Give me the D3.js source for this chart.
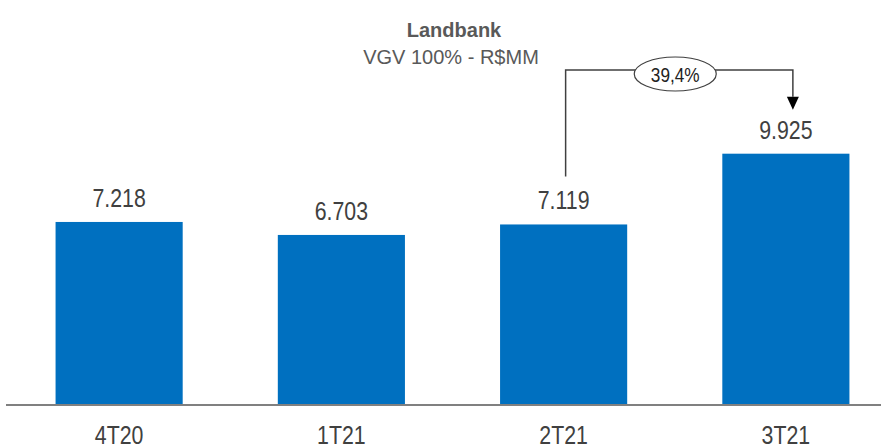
<!DOCTYPE html>
<html>
<head>
<meta charset="utf-8">
<script src="https://cdn.jsdelivr.net/npm/d3@7"></script>
<style>
  html, body { margin: 0; padding: 0; background: #fff; }
  svg { display: block; }
</style>
</head>
<body>
<svg id="chart" width="881" height="446"></svg>
<script>
// data
const categories = ['4T20', '1T21', '2T21', '3T21'];
const values = [7218, 6703, 7119, 9925];
const valueLabels = ['7.218', '6.703', '7.119', '9.925'];
const growthLabel = '39,4%';

const width = 881, height = 446;
const baseY = 404;
const FONT = 'Liberation Sans, Arial, sans-serif';
const NARROW = 0.82; // no Arial Narrow here, squeeze Liberation Sans instead

const svg = d3.select('#chart');

const x = d3.scaleBand()
    .domain(categories)
    .range([8, 897])
    .paddingInner(0.428)
    .paddingOuter(0.214);

const y = d3.scaleLinear()
    .domain([0, 10000])
    .range([baseY, baseY - 252.2]);

// narrow text helper: anchor at (tx, ty), squeezed horizontally
function narrowText(sel, tx, ty) {
  return sel
      .attr('transform', (d, i) => `translate(${tx(d, i)},${ty(d, i)}) scale(${NARROW},1)`)
      .attr('text-anchor', 'middle')
      .attr('font-family', FONT);
}

// title
svg.append('text')
    .attr('x', 454).attr('y', 37)
    .attr('text-anchor', 'middle')
    .attr('font-family', FONT)
    .attr('font-weight', 'bold')
    .attr('font-size', 20)
    .attr('fill', '#595959')
    .text('Landbank');

svg.append('text')
    .attr('x', 451).attr('y', 64)
    .attr('text-anchor', 'middle')
    .attr('font-family', FONT)
    .attr('font-size', 20)
    .attr('fill', '#595959')
    .text('VGV 100% - R$MM');

// bars
svg.append('g').selectAll('rect')
    .data(values)
    .enter().append('rect')
    .attr('x', (d, i) => x(categories[i]))
    .attr('y', d => y(d))
    .attr('width', x.bandwidth())
    .attr('height', d => baseY - y(d))
    .attr('fill', '#0070C0');

// value labels
svg.append('g').selectAll('text')
    .data(values)
    .enter().append('text')
    .call(narrowText, (d, i) => x(categories[i]) + x.bandwidth() / 2, d => y(d) - 15)
    .attr('font-size', 26)
    .attr('fill', '#404040')
    .text((d, i) => valueLabels[i]);

// baseline
svg.append('line')
    .attr('x1', 6).attr('x2', width)
    .attr('y1', baseY + 1).attr('y2', baseY + 1)
    .attr('stroke', '#808080')
    .attr('stroke-width', 2);

// category labels (cut by the bottom edge, as in the original)
svg.append('g').selectAll('text')
    .data(categories)
    .enter().append('text')
    .call(narrowText, d => x(d) + x.bandwidth() / 2, () => 444)
    .attr('font-size', 26)
    .attr('fill', '#404040')
    .text(d => d);

// growth bracket 2T21 -> 3T21
const x2 = x('2T21') + x.bandwidth() / 2 + 2;
const x3 = x('3T21') + x.bandwidth() / 2 + 7;
const topY = 70;
const g = svg.append('g');

g.append('path')
    .attr('d', `M${x2},${y(values[2]) - 48}V${topY}H${x3}V${y(values[3]) - 57}`)
    .attr('fill', 'none')
    .attr('stroke', '#404040')
    .attr('stroke-width', 1.5);

const tipY = y(values[3]) - 44;
g.append('path')
    .attr('d', `M${x3 - 6},${tipY - 13}L${x3 + 6},${tipY - 13}L${x3},${tipY}Z`)
    .attr('fill', '#000');

const ex = (x2 + x3) / 2 - 4;
g.append('ellipse')
    .attr('cx', ex).attr('cy', 74)
    .attr('rx', 41).attr('ry', 17)
    .attr('fill', '#fff')
    .attr('stroke', '#404040')
    .attr('stroke-width', 1.2);

g.append('text')
    .call(narrowText, () => ex, () => 82)
    .attr('font-size', 21)
    .attr('fill', '#222')
    .text(growthLabel);
</script>
</body>
</html>
